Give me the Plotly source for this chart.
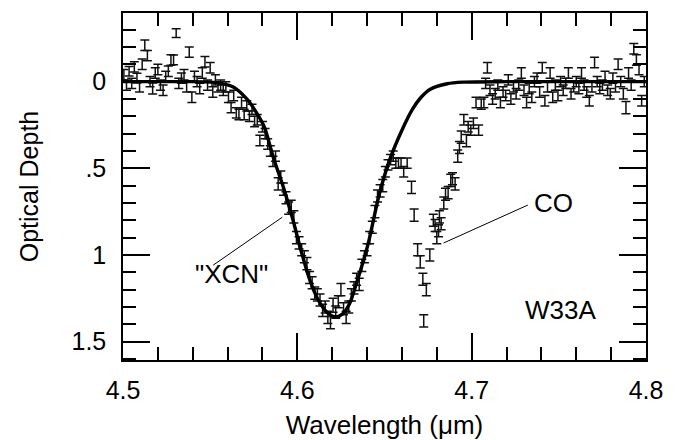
import plotly.graph_objects as go

# ---- observed optical depth (with 1-sigma errors) ----
wl = [
 4.5005, 4.502, 4.5035, 4.505, 4.5065, 4.508, 4.5095, 4.511, 4.5125, 4.514,
 4.5155, 4.517, 4.5185, 4.520, 4.5215, 4.523, 4.5245, 4.526, 4.5275, 4.529,
 4.5305, 4.532, 4.5335, 4.535, 4.5365, 4.538, 4.5395, 4.541, 4.5425, 4.544,
 4.5455, 4.547, 4.5485, 4.550, 4.5515, 4.553, 4.5545, 4.556, 4.5575,
 4.559, 4.5605, 4.562, 4.5635, 4.565, 4.5665, 4.568, 4.5695, 4.571, 4.5725,
 4.574, 4.5755, 4.577, 4.5785, 4.580, 4.5815, 4.583, 4.5845, 4.586, 4.5875,
 4.589, 4.5905, 4.592, 4.5935, 4.595, 4.5965, 4.598, 4.5995, 4.601, 4.6025,
 4.604,
 4.6055, 4.607, 4.6085, 4.610, 4.6115, 4.613, 4.6145, 4.616, 4.6175, 4.619,
 4.6205, 4.622, 4.6235, 4.625, 4.6265, 4.628, 4.6295, 4.631, 4.6325, 4.634,
 4.6355, 4.637, 4.6385, 4.640, 4.6415, 4.643, 4.6445, 4.646, 4.6475, 4.649,
 4.6505, 4.652, 4.6535, 4.655, 4.6565, 4.658, 4.6595, 4.661, 4.663,
 4.6655, 4.667, 4.669, 4.6705, 4.672, 4.6725, 4.674, 4.676, 4.678, 4.679,
 4.680, 4.681, 4.6815, 4.6825, 4.684, 4.685, 4.6865, 4.688, 4.689, 4.6905,
 4.692, 4.693, 4.694, 4.6955, 4.697, 4.698, 4.6995, 4.701, 4.7025, 4.704,
 4.7055, 4.707, 4.708,
 4.709, 4.7105, 4.712, 4.7135, 4.715, 4.7165, 4.718, 4.7195, 4.721, 4.7225,
 4.724, 4.7255, 4.727, 4.7285, 4.730, 4.7315, 4.733, 4.7345, 4.736, 4.7375,
 4.739, 4.7405, 4.742, 4.7435, 4.745, 4.7465, 4.748, 4.7495, 4.751, 4.7525,
 4.754, 4.7555, 4.757, 4.7585, 4.760, 4.7615, 4.763, 4.7645, 4.766, 4.7675,
 4.769, 4.7705, 4.772, 4.7735, 4.775, 4.7765, 4.778, 4.7795, 4.781, 4.7825,
 4.784, 4.7855, 4.787, 4.7885, 4.790, 4.7915, 4.793, 4.7945, 4.796, 4.7975,
 4.799,
]
tau = [
 -0.04, 0.02, -0.06, 0.01, -0.085, -0.02, 0.03, -0.10, -0.21, -0.15,
 0.00, 0.04, -0.05, -0.07, 0.02, 0.05, -0.03, -0.06, -0.125, -0.125,
 -0.28, 0.01, -0.02, -0.04, 0.03, -0.17, 0.09, -0.03, 0.00, 0.04,
 -0.05, -0.115, 0.02, -0.08, 0.06, -0.01, 0.03, 0.02, 0.05,
 0.03, 0.09, 0.15, 0.08, 0.18, 0.19, 0.12, 0.19, 0.14, 0.20,
 0.16, 0.23, 0.22, 0.34, 0.26, 0.30, 0.36, 0.40, 0.46, 0.43,
 0.59, 0.55, 0.62, 0.67, 0.73, 0.72, 0.78, 0.90, 0.93, 0.97,
 1.01,
 1.05, 1.13, 1.16, 1.22, 1.23, 1.26, 1.32, 1.30, 1.36, 1.39,
 1.29, 1.33, 1.27, 1.20, 1.31, 1.36, 1.30, 1.23, 1.19, 1.14,
 1.17, 1.06, 1.01, 0.97, 0.90, 0.84, 0.75, 0.66, 0.63, 0.60,
 0.52, 0.48, 0.45, 0.43, 0.47, 0.47, 0.47, 0.52, 0.47,
 0.61, 0.77, 0.97, 1.04, 1.14, 1.38, 1.20, 1.00, 0.80, 0.83,
 0.90, 0.86, 0.78, 0.82, 0.70, 0.65, 0.64, 0.57, 0.56, 0.59,
 0.43, 0.38, 0.32, 0.22, 0.34, 0.26, 0.28, 0.24, 0.12, 0.28,
 0.13, 0.12, 0.01,
 -0.08, 0.05, 0.10, 0.07, 0.02, 0.12, 0.06, 0.08, -0.01, 0.10,
 0.03, 0.07, 0.02, -0.05, 0.05, 0.12, 0.04, 0.09, 0.00, -0.02,
 0.06, -0.08, 0.11, 0.03, -0.05, 0.09, 0.02, 0.08, 0.00, 0.05,
 0.01, -0.05, 0.07, 0.03, 0.00, 0.04, -0.05, 0.02, 0.06, 0.11,
 0.03, -0.11, 0.00, 0.04, 0.02, -0.03, 0.05, 0.07, -0.02, 0.03,
 -0.10, 0.00, 0.07, 0.15, -0.05, 0.02, -0.19, -0.125, -0.07, 0.11,
 0.00,
]
err = [
 0.030, 0.030, 0.028, 0.030, 0.030, 0.028, 0.030, 0.030, 0.030, 0.030,
 0.030, 0.032, 0.030, 0.030, 0.030, 0.030, 0.030, 0.030, 0.030, 0.028,
 0.025, 0.030, 0.030, 0.030, 0.030, 0.030, 0.030, 0.030, 0.030, 0.030,
 0.030, 0.030, 0.030, 0.030, 0.030, 0.030, 0.030, 0.030, 0.030,
 0.030, 0.030, 0.030, 0.030, 0.030, 0.030, 0.030, 0.030, 0.030, 0.030,
 0.030, 0.030, 0.030, 0.030, 0.030, 0.030, 0.030, 0.030, 0.030, 0.030,
 0.035, 0.035, 0.035, 0.035, 0.035, 0.035, 0.035, 0.035, 0.035, 0.035,
 0.035,
 0.035, 0.035, 0.035, 0.035, 0.035, 0.035, 0.035, 0.035, 0.035, 0.035,
 0.040, 0.035, 0.035, 0.035, 0.035, 0.035, 0.035, 0.035, 0.035, 0.035,
 0.035, 0.035, 0.035, 0.035, 0.035, 0.035, 0.035, 0.035, 0.035, 0.035,
 0.030, 0.030, 0.030, 0.030, 0.030, 0.030, 0.030, 0.030, 0.030,
 0.035, 0.035, 0.035, 0.035, 0.035, 0.035, 0.035, 0.035, 0.035, 0.035,
 0.035, 0.035, 0.035, 0.035, 0.035, 0.035, 0.035, 0.035, 0.035, 0.035,
 0.035, 0.035, 0.035, 0.030, 0.035, 0.030, 0.030, 0.030, 0.030, 0.030,
 0.030, 0.030, 0.030,
 0.030, 0.030, 0.030, 0.030, 0.030, 0.030, 0.030, 0.030, 0.030, 0.030,
 0.030, 0.030, 0.030, 0.030, 0.030, 0.030, 0.030, 0.030, 0.030, 0.030,
 0.030, 0.030, 0.030, 0.030, 0.030, 0.030, 0.030, 0.030, 0.030, 0.030,
 0.030, 0.030, 0.030, 0.030, 0.030, 0.030, 0.030, 0.030, 0.030, 0.030,
 0.030, 0.030, 0.030, 0.030, 0.030, 0.030, 0.030, 0.030, 0.030, 0.030,
 0.030, 0.030, 0.030, 0.035, 0.030, 0.030, 0.030, 0.030, 0.030, 0.030,
 0.030,
]

# ---- fitted "XCN" profile ----
fit_wl = [4.500, 4.520, 4.540, 4.550, 4.556, 4.563, 4.571, 4.576, 4.581,
          4.586, 4.592, 4.597, 4.602, 4.607, 4.612, 4.617, 4.622, 4.626,
          4.630, 4.634, 4.638, 4.641, 4.647, 4.653, 4.660, 4.666, 4.671,
          4.676, 4.686, 4.695, 4.720, 4.760, 4.800]
fit_tau = [0.0, 0.0, 0.0, 0.003, 0.01, 0.03, 0.10, 0.17, 0.26,
           0.43, 0.61, 0.78, 0.97, 1.14, 1.26, 1.33, 1.357, 1.34,
           1.28, 1.16, 1.03, 0.92, 0.65, 0.45, 0.28, 0.16, 0.09,
           0.045, 0.012, 0.003, 0.0, 0.0, 0.0]

y_tickvals = [0, 0.5, 1, 1.5]
y_ticktext = ["0", ".5", "1", "1.5"]
x_tickvals = [4.5, 4.6, 4.7, 4.8]
x_ticktext = ["4.5", "4.6", "4.7", "4.8"]

FONT = "Liberation Sans, Arial, sans-serif"

fig = go.Figure()
fig.add_trace(go.Scatter(
    x=wl, y=tau, mode="markers",
    marker=dict(size=0.1, color="black", opacity=0),
    error_y=dict(type="data", array=err, visible=True, color="#111111",
                 thickness=1.5, width=4.5),
    showlegend=False, hoverinfo="skip"))
fig.add_trace(go.Scatter(
    x=fit_wl, y=fit_tau, mode="lines",
    line=dict(color="black", width=3.4, shape="spline", smoothing=0.8),
    showlegend=False, hoverinfo="skip"))

# leader lines
fig.add_shape(type="line", xref="x", yref="y", x0=4.5517, y0=1.059, x1=4.5914, y1=0.782,
              line=dict(color="black", width=1))
fig.add_shape(type="line", xref="x", yref="y", x0=4.6839, y0=0.931, x1=4.7322, y1=0.712,
              line=dict(color="black", width=1))

for txt, x, y in [("\"XCN\"", 4.5620, 1.11), ("CO", 4.7470, 0.70), ("W33A", 4.7510, 1.316)]:
    fig.add_annotation(x=x, y=y, xref="x", yref="y", text=txt, showarrow=False,
                       font=dict(family=FONT, size=26, color="black"))

axis_common = dict(showline=True, linecolor="black", linewidth=1.5, mirror="ticks",
                   ticks="inside", ticklen=27, tickwidth=1.5, tickcolor="black",
                   showgrid=False, zeroline=False, automargin=False,
                   tickfont=dict(family=FONT, size=25, color="black"))

fig.update_xaxes(range=[4.5, 4.8], tickmode="array", tickvals=x_tickvals, ticktext=x_ticktext,
                 minor=dict(tickmode="linear", tick0=4.5, dtick=0.02, ticks="inside",
                            ticklen=13, tickwidth=1.5, tickcolor="black", showgrid=False),
                 title=dict(text="Wavelength (μm)", font=dict(family=FONT, size=26, color="black"),
                            standoff=16),
                 ticklabelstandoff=7,
                 **axis_common)
fig.update_yaxes(range=[1.606, -0.396], tickmode="array", tickvals=y_tickvals, ticktext=y_ticktext,
                 minor=dict(tickmode="linear", tick0=0, dtick=0.1, ticks="inside",
                            ticklen=13, tickwidth=1.5, tickcolor="black", showgrid=False),
                 title=dict(text="Optical Depth", font=dict(family=FONT, size=25, color="black"),
                            standoff=26),
                 ticklabelstandoff=10,
                 **axis_common)

fig.update_layout(width=677, height=440, margin=dict(l=123, r=31, t=13, b=80),
                  paper_bgcolor="white", plot_bgcolor="white")

fig.write_html("out.html")
